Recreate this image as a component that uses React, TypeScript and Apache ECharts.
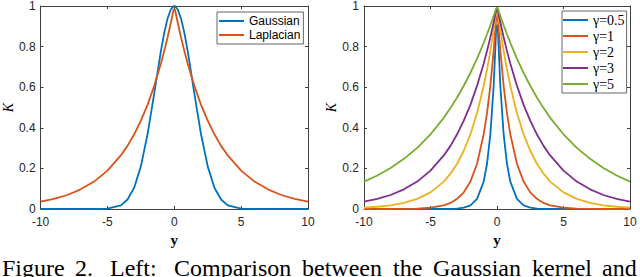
import React, { useEffect, useRef } from "react";
import * as echarts from "echarts";

// sample positions along y
const xs = [-10, -9, -8, -7, -6, -5, -4, -3.5, -3, -2.5, -2, -1.5, -1, -0.75, -0.5, -0.25, -0.05,
  0.05, 0.25, 0.5, 0.75, 1, 1.5, 2, 2.5, 3, 3.5, 4, 5, 6, 7, 8, 9, 10];

// left panel
const gaussian = [0, 0, 0, 0, 0, 0.002, 0.018, 0.047, 0.105, 0.21, 0.368, 0.57, 0.779, 0.869, 0.939, 0.984, 0.999,
  0.999, 0.984, 0.939, 0.869, 0.779, 0.57, 0.368, 0.21, 0.105, 0.047, 0.018, 0.002, 0, 0, 0, 0, 0];
const laplacian = [0.036, 0.05, 0.069, 0.097, 0.135, 0.189, 0.264, 0.311, 0.368, 0.435, 0.513, 0.607, 0.717, 0.779, 0.846, 0.92, 0.983,
  0.983, 0.92, 0.846, 0.779, 0.717, 0.607, 0.513, 0.435, 0.368, 0.311, 0.264, 0.189, 0.135, 0.097, 0.069, 0.05, 0.036];

// right panel
const gamma05 = [0, 0, 0, 0, 0, 0, 0, 0.001, 0.002, 0.007, 0.018, 0.05, 0.135, 0.223, 0.368, 0.607, 0.905,
  0.905, 0.607, 0.368, 0.223, 0.135, 0.05, 0.018, 0.007, 0.002, 0.001, 0, 0, 0, 0, 0, 0, 0];
const gamma1 = [0, 0, 0, 0.001, 0.002, 0.007, 0.018, 0.03, 0.05, 0.082, 0.135, 0.223, 0.368, 0.472, 0.607, 0.779, 0.951,
  0.951, 0.779, 0.607, 0.472, 0.368, 0.223, 0.135, 0.082, 0.05, 0.03, 0.018, 0.007, 0.002, 0.001, 0, 0, 0];
const gamma2 = [0.007, 0.011, 0.018, 0.03, 0.05, 0.082, 0.135, 0.174, 0.223, 0.287, 0.368, 0.472, 0.607, 0.687, 0.779, 0.882, 0.975,
  0.975, 0.882, 0.779, 0.687, 0.607, 0.472, 0.368, 0.287, 0.223, 0.174, 0.135, 0.082, 0.05, 0.03, 0.018, 0.011, 0.007];
const gamma3 = [0.036, 0.05, 0.069, 0.097, 0.135, 0.189, 0.264, 0.311, 0.368, 0.435, 0.513, 0.607, 0.717, 0.779, 0.846, 0.92, 0.983,
  0.983, 0.92, 0.846, 0.779, 0.717, 0.607, 0.513, 0.435, 0.368, 0.311, 0.264, 0.189, 0.135, 0.097, 0.069, 0.05, 0.036];
const gamma5 = [0.135, 0.165, 0.202, 0.247, 0.301, 0.368, 0.449, 0.497, 0.549, 0.607, 0.67, 0.741, 0.819, 0.861, 0.905, 0.951, 0.99,
  0.99, 0.951, 0.905, 0.861, 0.819, 0.741, 0.67, 0.607, 0.549, 0.497, 0.449, 0.368, 0.301, 0.247, 0.202, 0.165, 0.135];

const leftNames = ["Gaussian", "Laplacian"];
const rightNames = ["γ=0.5", "γ=1", "γ=2", "γ=3", "γ=5"];
const colors = ["#0072BD", "#D95319", "#EDB120", "#7E2F8E", "#77AC30"];

const captionWords = ["Figure", "2.", "Left:", "Comparison", "between", "the", "Gaussian", "kernel", "and"];
const captionX = [2, 75, 110, 174, 302, 393, 433, 532, 602];

const X_MIN = -10, X_MAX = 10, X_STEP = 5;
const Y_MIN = 0, Y_MAX = 1, Y_STEP = 0.2;

const AXIS_COLOR = "#404040";
const TEXT_COLOR = "#262626";
const SANS = "Liberation Sans";
const SERIF = "Liberation Serif";

function toPairs(vals: number[]) {
  return xs.map((x, i) => [x, vals[i]]);
}

function xAxisDef(gridIndex: number, top: boolean) {
  return {
    type: "value",
    gridIndex,
    position: top ? "top" : "bottom",
    min: X_MIN,
    max: X_MAX,
    interval: X_STEP,
    axisLine: { show: true, onZero: false, lineStyle: { color: AXIS_COLOR, width: 1 } },
    axisTick: { show: true, inside: true, length: 3, lineStyle: { color: AXIS_COLOR } },
    axisLabel: { show: !top, margin: 7, color: TEXT_COLOR, fontFamily: SANS, fontSize: 12 },
    splitLine: { show: false },
    name: top ? "" : "y",
    nameLocation: "middle",
    nameGap: 18,
    nameTextStyle: { fontFamily: SERIF, fontWeight: "bold", fontSize: 15, color: "#000" },
  };
}

function yAxisDef(gridIndex: number, right: boolean) {
  return {
    type: "value",
    gridIndex,
    position: right ? "right" : "left",
    min: Y_MIN,
    max: Y_MAX,
    interval: Y_STEP,
    axisLine: { show: true, onZero: false, lineStyle: { color: AXIS_COLOR, width: 1 } },
    axisTick: { show: true, inside: true, length: 3, lineStyle: { color: AXIS_COLOR } },
    axisLabel: { show: !right, margin: 5, color: TEXT_COLOR, fontFamily: SANS, fontSize: 12 },
    splitLine: { show: false },
    name: right ? "" : "K",
    nameLocation: "middle",
    nameGap: 25,
    nameTextStyle: { fontFamily: SERIF, fontStyle: "italic", fontSize: 14, color: "#000" },
  };
}

export default function App() {
  const ref = useRef<HTMLDivElement>(null);

  useEffect(() => {
    if (!ref.current) return;
    const chart = echarts.init(ref.current, null, { renderer: "svg" });

    const leftData = [gaussian, laplacian];
    const rightData = [gamma05, gamma1, gamma2, gamma3, gamma5];

    const series: any[] = [];
    leftData.forEach((d, i) => {
      series.push({
        name: leftNames[i],
        type: "line",
        xAxisIndex: 0,
        yAxisIndex: 0,
        data: toPairs(d),
        showSymbol: false,
        symbol: "none",
        lineStyle: { color: colors[i], width: 1.8 },
        itemStyle: { color: colors[i] },
      });
    });
    rightData.forEach((d, i) => {
      series.push({
        name: rightNames[i],
        type: "line",
        xAxisIndex: 2,
        yAxisIndex: 2,
        data: toPairs(d),
        showSymbol: false,
        symbol: "none",
        lineStyle: { color: colors[i], width: 1.8 },
        itemStyle: { color: colors[i] },
      });
    });

    chart.setOption({
      animation: false,
      grid: [
        { left: 40, top: 5, width: 268, height: 204 },
        { left: 364, top: 5, width: 266, height: 204 },
      ],
      xAxis: [xAxisDef(0, false), xAxisDef(0, true), xAxisDef(1, false), xAxisDef(1, true)],
      yAxis: [yAxisDef(0, false), yAxisDef(0, true), yAxisDef(1, false), yAxisDef(1, true)],
      legend: [
        {
          data: leftNames,
          left: 217,
          top: 12,
          orient: "vertical",
          icon: "rect",
          itemWidth: 25,
          itemHeight: 2,
          itemGap: 2,
          padding: [3, 3, 3, 2],
          backgroundColor: "#fff",
          borderColor: AXIS_COLOR,
          borderWidth: 0.8,
          borderRadius: 0,
          textStyle: { fontFamily: SANS, fontSize: 12, color: "#000", lineHeight: 12 },
        },
        {
          data: rightNames,
          left: 562,
          top: 11,
          orient: "vertical",
          icon: "rect",
          itemWidth: 25,
          itemHeight: 2,
          itemGap: 2,
          padding: [2, 2, 2, 1],
          backgroundColor: "#fff",
          borderColor: AXIS_COLOR,
          borderWidth: 0.8,
          borderRadius: 0,
          textStyle: { fontFamily: SERIF, fontSize: 14, color: "#000", lineHeight: 13.2 },
        },
      ],
      graphic: captionWords.map((w, i) => ({
        type: "text",
        left: captionX[i],
        top: 256,
        style: { text: w, font: `24px '${SERIF}'`, fill: "#000" },
        silent: true,
      })),
      series,
    });

    return () => chart.dispose();
  }, []);

  return (
    <div
      ref={ref}
      style={{ position: "fixed", left: 0, top: 0, width: 640, height: 277, background: "#fff" }}
    />
  );
}
